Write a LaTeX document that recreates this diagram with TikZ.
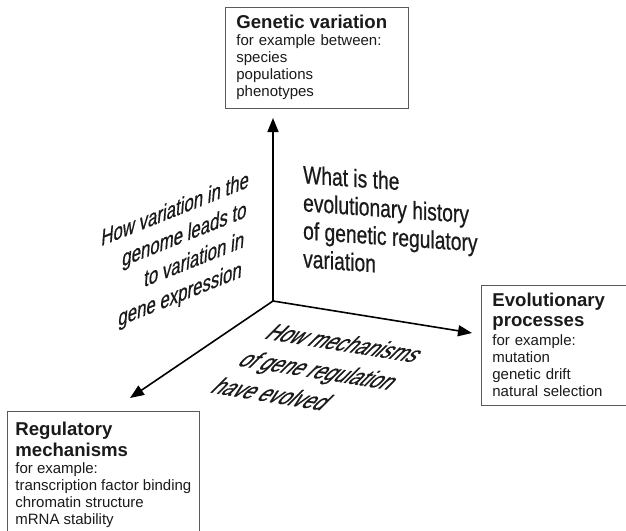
\documentclass[tikz,border=0pt]{standalone}
\usepackage{fontspec}
\setmainfont{Liberation Sans}
\newfontfamily\qfont[FakeBold=0.7]{Liberation Sans}
\usepackage{xcolor}
\usepackage{tikz}
\usetikzlibrary{arrows.meta}
\definecolor{dink}{HTML}{1A1A1A}
\definecolor{dframe}{HTML}{5A5A5A}
\newcommand{\boxhead}[1]{{\fontsize{18.6}{20}\selectfont\bfseries #1}}

\begin{document}
\begin{tikzpicture}[x=1pt,y=-1pt,
  box/.style={draw=dframe,line width=0.8pt,anchor=north west,align=left,
    inner xsep=11pt,inner ysep=8pt,text=dink,
    font={\parindent0pt\fontsize{15}{17}\selectfont}},
  axis/.style={line width=1.6pt,line cap=round,-{Triangle[length=14pt,width=11pt]}},
  question/.style={transform shape,inner sep=0pt,text=dink}]
  \path[use as bounding box,fill=white] (0,0) rectangle (626,530);

  % the three boxes
  \node[box,text width=161pt] (genvar) at (225,7)
    {\boxhead{Genetic variation}\\
     for example between:\\species\\populations\\phenotypes};
  \node[box,text width=150pt] (evoproc) at (481,285)
    {\boxhead{Evolutionary}\\[3pt]\boxhead{processes}\\[2pt]
     for example:\\mutation\\genetic drift\\natural selection};
  \node[box,inner xsep=8pt,inner ysep=11pt] (regmech) at (7,411)
    {\boxhead{Regulatory}\\[2pt]\boxhead{mechanisms}\\
     for example:\\transcription factor binding\\chromatin structure\\mRNA stability};

  % axes
  \coordinate (o) at (273,301);
  \coordinate (uptip) at (273,118);
  \coordinate (righttip) at (472,333);
  \coordinate (lefttip) at (130,398);
  \draw[axis] (o) -- (uptip);
  \draw[axis] (o) -- (righttip);
  \draw[axis] (o) -- (lefttip);

  % questions on the three planes
  \begin{scope}[shift={(250,169.5)},cm={0.7,0.28,0.08,1,(0,0)}]
    \node[question,anchor=north east,align=right,font=\qfont\fontsize{24}{30}\selectfont] (qexpr) at (0,0)
      {How variation in the\\genome leads to\\to variation in\\gene expression};
  \end{scope}
  \begin{scope}[shift={(303,165)},cm={0.77,-0.054,0,1,(0,0)}]
    \node[question,anchor=north west,align=left,font=\qfont\fontsize{25}{28}\selectfont] (qhist) at (0,0)
      {What is the\\evolutionary history\\of genetic regulatory\\variation};
  \end{scope}
  \begin{scope}[shift={(278.5,323)},cm={0.9,-0.145,1.0,1,(0,0)}]
    \node[question,anchor=north west,align=left,font=\qfont\fontsize{21}{27}\selectfont] (qmech) at (0,0)
      {How mechanisms\\of gene regulation\\have evolved};
  \end{scope}
\end{tikzpicture}
\end{document}
